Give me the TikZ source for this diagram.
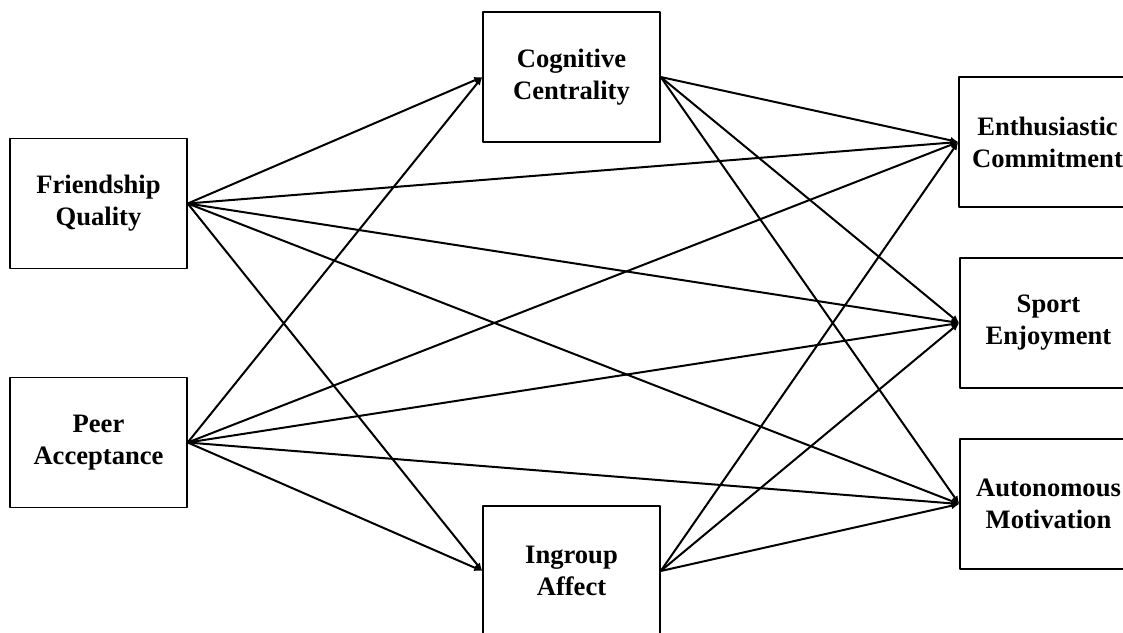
\documentclass[tikz,border=0pt]{standalone}
\usepackage{fontspec}
\setmainfont{Liberation Serif}
\usetikzlibrary{arrows.meta}

\begin{document}
\begin{tikzpicture}[x=0.5pt,y=-0.5pt,>={Latex[length=4pt,width=3.5pt]},line join=round,
    box/.style={draw,line width=0.7pt,minimum width=88.5pt,minimum height=65pt,
      align=center,font=\fontsize{13.3}{16}\selectfont\bfseries}]
  \clip (0,0) rectangle (1123,632);

  % predictors
  \node[box] (fq) at (98.5,203.5) {Friendship\\Quality};
  \node[box] (pa) at (98.5,442.5) {Peer\\Acceptance};
  % mediators
  \node[box] (cc) at (571.5,77) {Cognitive\\Centrality};
  \node[box] (ia) at (571.5,571) {Ingroup\\Affect};
  % outcomes
  \node[box] (ec) at (1047.5,142) {Enthusiastic\\Commitment};
  \node[box] (se) at (1048.5,323) {Sport\\Enjoyment};
  \node[box] (am) at (1048.5,504) {Autonomous\\Motivation};

  \foreach \s in {fq,pa} {
    \foreach \t in {cc,ia,ec,se,am}
      \draw[->,line width=1pt] (\s.east) -- (\t.west);
  }
  \foreach \s in {cc,ia} {
    \foreach \t in {ec,se,am}
      \draw[->,line width=1pt] (\s.east) -- (\t.west);
  }
\end{tikzpicture}
\end{document}
